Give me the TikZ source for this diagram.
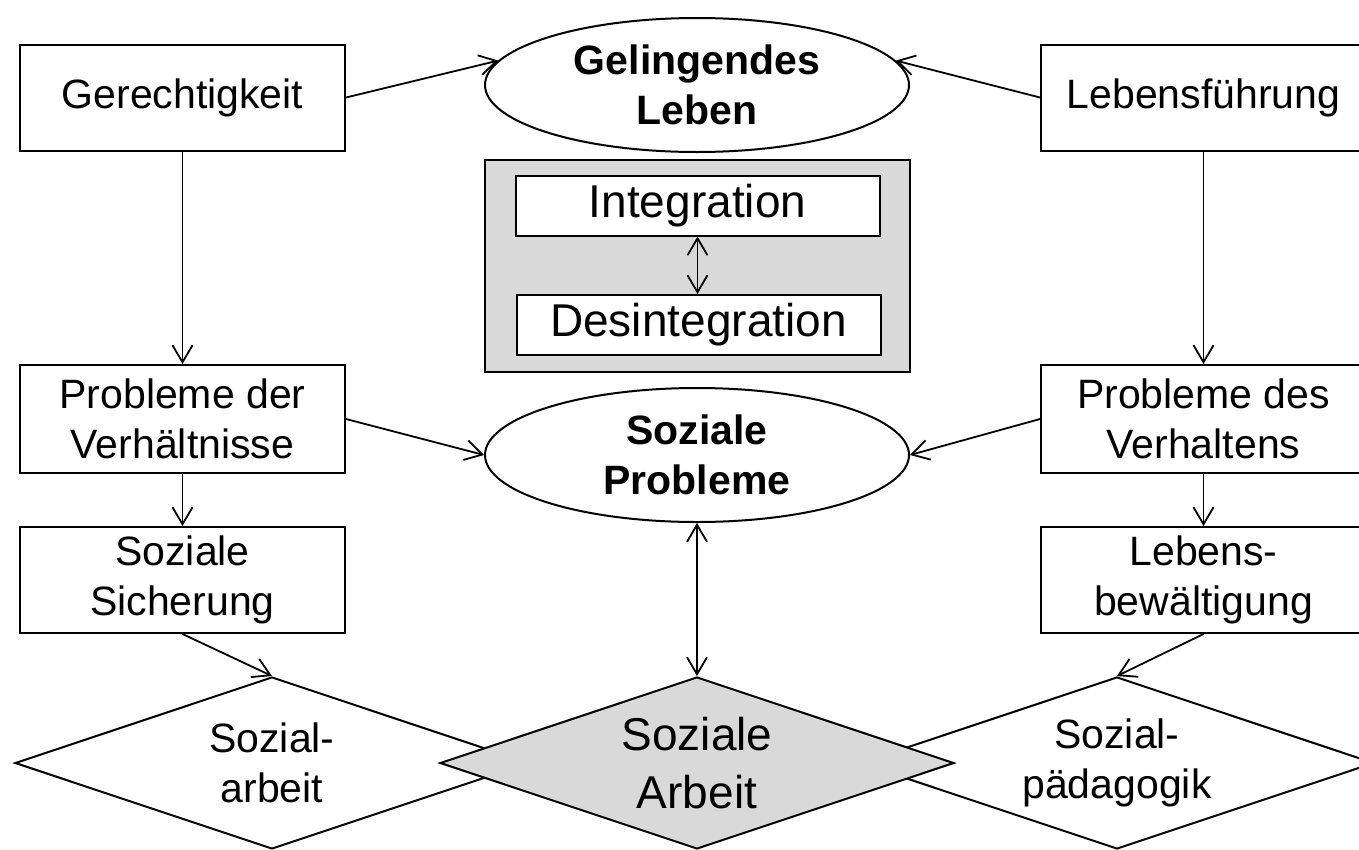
\documentclass[tikz,border=0pt]{standalone}
\usepackage{fontspec}
\setmainfont{Liberation Sans}
\definecolor{panelgrey}{RGB}{217,217,217}
\usetikzlibrary{shapes.geometric,arrows.meta}

\begin{document}
\begin{tikzpicture}[x=1pt,y=-1pt,
    >={Straight Barb[length=17pt,width=20pt]},
    txt/.style={font=\fontsize{41}{50}\selectfont},
    bigtxt/.style={font=\fontsize{46}{58}\selectfont},
    box/.style={draw,line width=2pt,fill=white,align=center,minimum width=325pt,minimum height=106pt,inner sep=0pt,txt},
    innerbox/.style={box,minimum width=364pt,minimum height=60pt,bigtxt},
    oval/.style={draw,ellipse,line width=2pt,align=center,minimum width=424pt,minimum height=134pt,inner sep=0pt,font=\fontsize{41}{50}\selectfont\bfseries},
    rhomb/.style={draw,diamond,aspect=3,line width=2pt,fill=white,align=center,minimum width=514pt,minimum height=172pt,inner sep=0pt,txt},
    link/.style={line width=1.8pt,->},
    both/.style={line width=1.8pt,<->}]
    \useasboundingbox (0,0) rectangle (1359,849);
    \clip (0,0) rectangle (1359,849);

    % top row
    \node[oval] (leben) at (697,85) {Gelingendes\\Leben};
    \node[box] (gerecht) at (182.5,97.5) {Gerechtigkeit};
    \node[box] (fuehrung) at (1203.5,97.5) {Lebensführung};

    % grey panel in the middle
    \node[draw,line width=2pt,fill=panelgrey,minimum width=425pt,minimum height=212pt,inner sep=0pt] (panel) at (697.5,266) {};
    \node[innerbox] (integ) at (697.5,205.5) {Integration};
    \node[innerbox] (desint) at (698.5,325) {Desintegration};

    % problems
    \node[box,minimum height=108pt] (pverh) at (182.5,419) {Probleme der\\Verhältnisse};
    \node[oval] (sozprob) at (697,455) {Soziale\\Probleme};
    \node[box,minimum height=108pt] (pverhal) at (1203.5,419) {Probleme des\\Verhaltens};
    \node[box] (sicher) at (182.5,580) {Soziale\\Sicherung};
    \node[box] (bewaelt) at (1203.5,580) {Lebens-\\bewältigung};

    % bottom row
    \node[rhomb] (sozarbeit) at (272,763) {Sozial-\\arbeit};
    \node[rhomb] (sozpaed) at (1117,763) {Sozial-\\pädagogik};
    \node[rhomb,fill=panelgrey,bigtxt] (sozarb) at (697,763) {Soziale\\Arbeit};

    % connectors
    \draw[link] (gerecht.east) -- (leben.173);
    \draw[link] (fuehrung.west) -- (leben.7);
    \draw[link] (gerecht.south) -- (pverh.north);
    \draw[link] (fuehrung.south) -- (pverhal.north);
    \draw[both] (integ.south) -- (integ.south |- desint.north);
    \draw[link] (pverh.east) -- (sozprob.west);
    \draw[link] (pverhal.west) -- (sozprob.east);
    \draw[link] (pverh.south) -- (sicher.north);
    \draw[link] (pverhal.south) -- (bewaelt.north);
    \draw[link] (sicher.south) -- (sozarbeit.north);
    \draw[link] (bewaelt.south) -- (sozpaed.north);
    \draw[both] (sozprob.south) -- (sozarb.north);
\end{tikzpicture}
\end{document}
